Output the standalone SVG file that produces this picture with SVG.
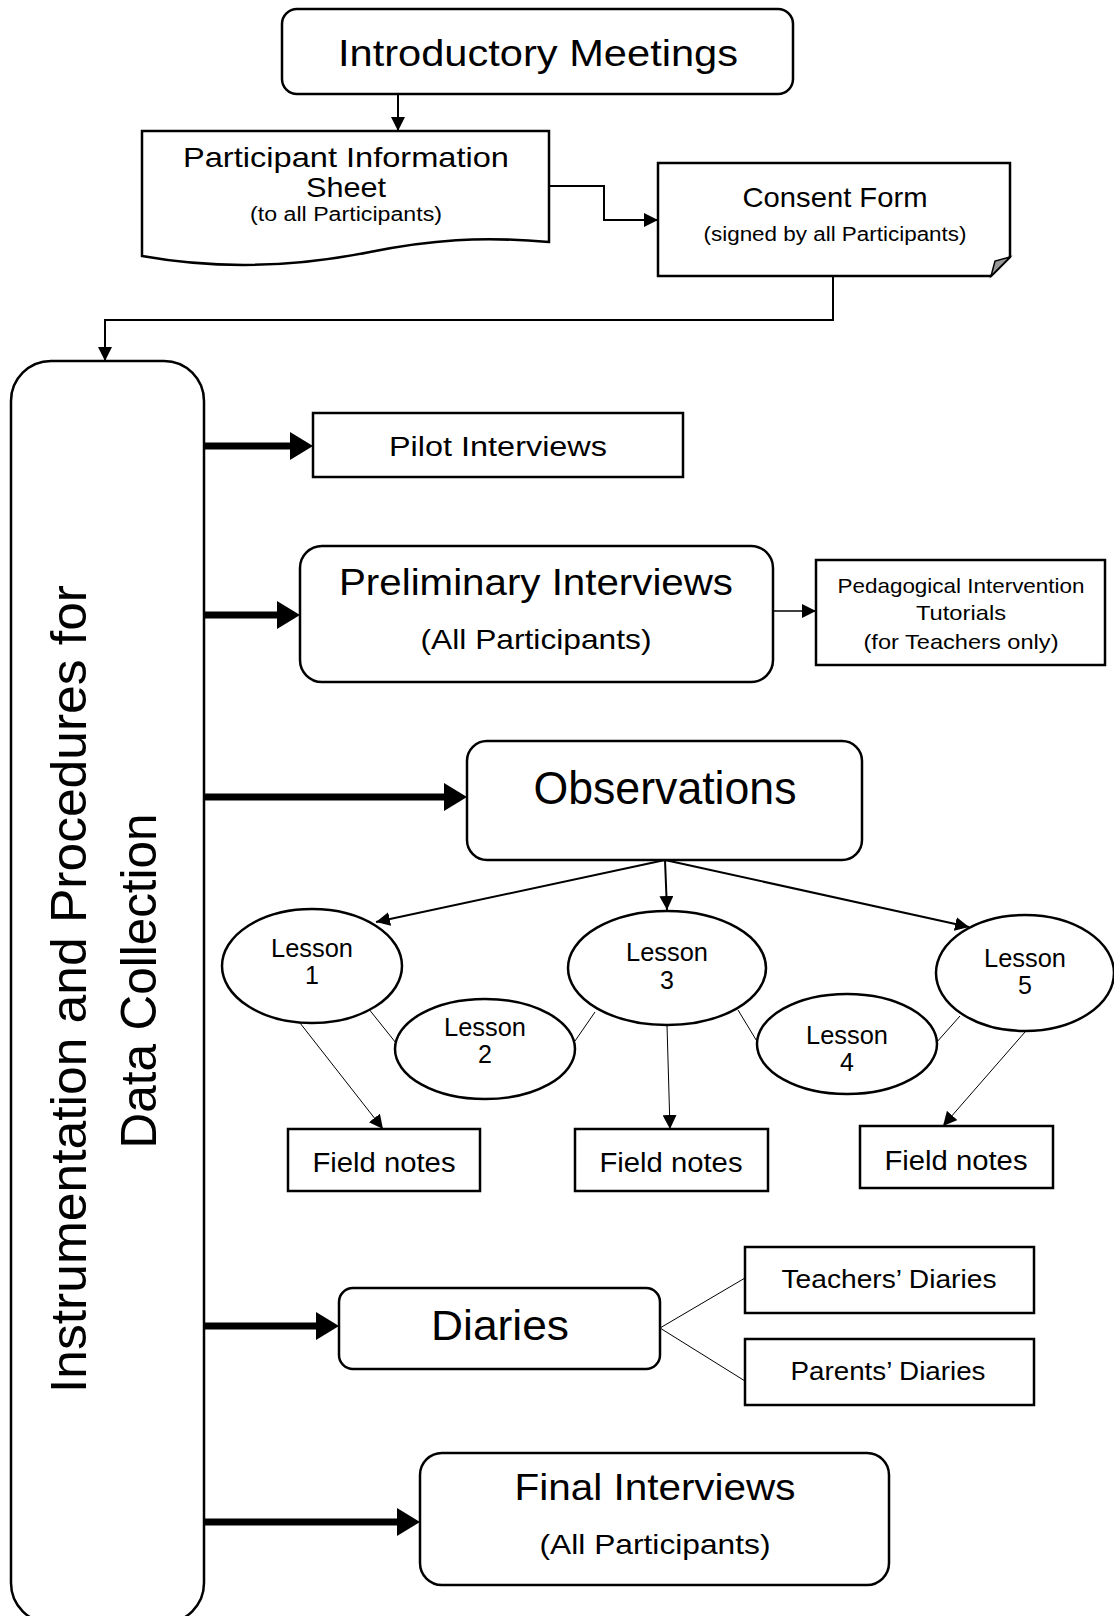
<svg xmlns="http://www.w3.org/2000/svg" width="1114" height="1616" viewBox="0 0 1114 1616">
<style>
.b{fill:#fff;stroke:#000;stroke-width:2.5}
.t{font-family:"Liberation Sans",Arial,sans-serif;fill:#000;text-anchor:middle}
.c{fill:none;stroke:#000}
.thick{stroke-width:7}
</style>
<defs>
<marker id="th" markerUnits="userSpaceOnUse" markerWidth="24" markerHeight="28" viewBox="0 0 24 28" refX="0" refY="14" orient="auto"><path d="M0,0 L23,14 L0,28 Z" fill="#000"/></marker>
<marker id="ar" markerUnits="userSpaceOnUse" markerWidth="14" markerHeight="14" viewBox="0 0 14 14" refX="14" refY="7" orient="auto"><path d="M0,0 L14,7 L0,14 Z" fill="#000"/></marker>
</defs>
<rect width="1114" height="1616" fill="#fff"/>

<g id="connectors">
<line class="c" x1="398" y1="94" x2="398" y2="131" stroke-width="2" marker-end="url(#ar)"/>
<polyline class="c" points="549,186 604,186 604,220 658,220" stroke-width="2" marker-end="url(#ar)"/>
<polyline class="c" points="833,276 833,320 105,320 105,361" stroke-width="2" marker-end="url(#ar)"/>
<line class="c thick" x1="204" y1="446" x2="290" y2="446" marker-end="url(#th)"/>
<line class="c thick" x1="201" y1="615" x2="277" y2="615" marker-end="url(#th)"/>
<line class="c thick" x1="199" y1="797" x2="444" y2="797" marker-end="url(#th)"/>
<line class="c thick" x1="201" y1="1326" x2="316" y2="1326" marker-end="url(#th)"/>
<line class="c thick" x1="201" y1="1522" x2="397" y2="1522" marker-end="url(#th)"/>
<line class="c" x1="773" y1="611" x2="816" y2="611" stroke-width="1.5" marker-end="url(#ar)"/>
<line class="c" x1="665" y1="860" x2="376" y2="922" stroke-width="2" marker-end="url(#ar)"/>
<line class="c" x1="665" y1="860" x2="667" y2="910" stroke-width="2" marker-end="url(#ar)"/>
<line class="c" x1="665" y1="860" x2="969" y2="927" stroke-width="2" marker-end="url(#ar)"/>
<line class="c" x1="368" y1="1008" x2="396" y2="1043" stroke-width="1"/>
<line class="c" x1="575" y1="1041" x2="595" y2="1012" stroke-width="1"/>
<line class="c" x1="738" y1="1010" x2="758" y2="1043" stroke-width="1"/>
<line class="c" x1="936" y1="1043" x2="960" y2="1016" stroke-width="1"/>
<line class="c" x1="300" y1="1023" x2="383" y2="1129" stroke-width="1" marker-end="url(#ar)"/>
<line class="c" x1="667" y1="1025" x2="670" y2="1129" stroke-width="1" marker-end="url(#ar)"/>
<line class="c" x1="1025" y1="1032" x2="943" y2="1126" stroke-width="1" marker-end="url(#ar)"/>
<polyline class="c" points="745,1278 660,1328 745,1381" stroke-width="1"/>
</g>

<g id="intro">
<rect class="b" x="282" y="9" width="511" height="85" rx="15"/>
<text class="t" x="538" y="66" font-size="36" textLength="400" lengthAdjust="spacingAndGlyphs">Introductory Meetings</text>
</g>

<g id="pis">
<path class="b" d="M142,131 H549 V242 C480,236 430,240 370,252 C300,266 220,270 142,256 Z"/>
<text class="t" x="346" y="167" font-size="28" textLength="326" lengthAdjust="spacingAndGlyphs">Participant Information</text>
<text class="t" x="346" y="197" font-size="28" textLength="80" lengthAdjust="spacingAndGlyphs">Sheet</text>
<text class="t" x="346" y="221" font-size="20" textLength="192" lengthAdjust="spacingAndGlyphs">(to all Participants)</text>
</g>

<g id="consent">
<path class="b" d="M658,163 H1010 V257 L991,276 H658 Z"/>
<path d="M1010,257 L991,276 L995,261 Z" fill="#999" stroke="#000" stroke-width="1.5"/>
<text class="t" x="835" y="207" font-size="28" textLength="185" lengthAdjust="spacingAndGlyphs">Consent Form</text>
<text class="t" x="835" y="241" font-size="20" textLength="263" lengthAdjust="spacingAndGlyphs">(signed by all Participants)</text>
</g>

<g id="instrumentation">
<rect class="b" x="11" y="361" width="193" height="1262" rx="40"/>
<text class="t" transform="translate(86,989) rotate(-90)" font-size="50" textLength="808" lengthAdjust="spacingAndGlyphs">Instrumentation and Procedures for</text>
<text class="t" transform="translate(156,981) rotate(-90)" font-size="50" textLength="335" lengthAdjust="spacingAndGlyphs">Data Collection</text>
</g>

<g id="pilot">
<rect class="b" x="313" y="413" width="370" height="64"/>
<text class="t" x="498" y="456" font-size="27" textLength="218" lengthAdjust="spacingAndGlyphs">Pilot Interviews</text>
</g>

<g id="preliminary">
<rect class="b" x="300" y="546" width="473" height="136" rx="22"/>
<text class="t" x="536" y="595" font-size="36" textLength="394" lengthAdjust="spacingAndGlyphs">Preliminary Interviews</text>
<text class="t" x="536" y="649" font-size="28" textLength="231" lengthAdjust="spacingAndGlyphs">(All Participants)</text>
</g>

<g id="pedagogical">
<rect class="b" x="816" y="560" width="289" height="105"/>
<text class="t" x="961" y="593" font-size="21" textLength="247" lengthAdjust="spacingAndGlyphs">Pedagogical Intervention</text>
<text class="t" x="961" y="620" font-size="21" textLength="90" lengthAdjust="spacingAndGlyphs">Tutorials</text>
<text class="t" x="961" y="649" font-size="21" textLength="195" lengthAdjust="spacingAndGlyphs">(for Teachers only)</text>
</g>

<g id="observations">
<rect class="b" x="467" y="741" width="395" height="119" rx="20"/>
<text class="t" x="665" y="804" font-size="46" textLength="263" lengthAdjust="spacingAndGlyphs">Observations</text>
</g>

<g id="lesson1">
<ellipse class="b" cx="312" cy="966" rx="90" ry="57"/>
<text class="t" x="312" y="957" font-size="25" textLength="82" lengthAdjust="spacingAndGlyphs">Lesson</text>
<text class="t" x="312" y="984" font-size="25">1</text>
</g>
<g id="lesson2">
<ellipse class="b" cx="485" cy="1049" rx="90" ry="50"/>
<text class="t" x="485" y="1036" font-size="25" textLength="82" lengthAdjust="spacingAndGlyphs">Lesson</text>
<text class="t" x="485" y="1063" font-size="25">2</text>
</g>
<g id="lesson3">
<ellipse class="b" cx="667" cy="968" rx="99" ry="57"/>
<text class="t" x="667" y="961" font-size="25" textLength="82" lengthAdjust="spacingAndGlyphs">Lesson</text>
<text class="t" x="667" y="989" font-size="25">3</text>
</g>
<g id="lesson4">
<ellipse class="b" cx="847" cy="1044" rx="90" ry="50"/>
<text class="t" x="847" y="1044" font-size="25" textLength="82" lengthAdjust="spacingAndGlyphs">Lesson</text>
<text class="t" x="847" y="1071" font-size="25">4</text>
</g>
<g id="lesson5">
<ellipse class="b" cx="1025" cy="973" rx="89" ry="58"/>
<text class="t" x="1025" y="967" font-size="25" textLength="82" lengthAdjust="spacingAndGlyphs">Lesson</text>
<text class="t" x="1025" y="994" font-size="25">5</text>
</g>

<g id="fieldnotes1">
<rect class="b" x="288" y="1129" width="192" height="62"/>
<text class="t" x="384" y="1172" font-size="27" textLength="143" lengthAdjust="spacingAndGlyphs">Field notes</text>
</g>
<g id="fieldnotes2">
<rect class="b" x="575" y="1129" width="193" height="62"/>
<text class="t" x="671" y="1172" font-size="27" textLength="143" lengthAdjust="spacingAndGlyphs">Field notes</text>
</g>
<g id="fieldnotes3">
<rect class="b" x="860" y="1126" width="193" height="62"/>
<text class="t" x="956" y="1170" font-size="27" textLength="143" lengthAdjust="spacingAndGlyphs">Field notes</text>
</g>

<g id="diaries">
<rect class="b" x="339" y="1288" width="321" height="81" rx="14"/>
<text class="t" x="500" y="1340" font-size="42" textLength="138" lengthAdjust="spacingAndGlyphs">Diaries</text>
</g>
<g id="teachers">
<rect class="b" x="745" y="1247" width="289" height="66"/>
<text class="t" x="889" y="1288" font-size="26" textLength="215" lengthAdjust="spacingAndGlyphs">Teachers’ Diaries</text>
</g>
<g id="parents">
<rect class="b" x="745" y="1339" width="289" height="66"/>
<text class="t" x="888" y="1380" font-size="26" textLength="195" lengthAdjust="spacingAndGlyphs">Parents’ Diaries</text>
</g>

<g id="final">
<rect class="b" x="420" y="1453" width="469" height="132" rx="22"/>
<text class="t" x="655" y="1500" font-size="36" textLength="281" lengthAdjust="spacingAndGlyphs">Final Interviews</text>
<text class="t" x="655" y="1554" font-size="28" textLength="231" lengthAdjust="spacingAndGlyphs">(All Participants)</text>
</g>
</svg>
